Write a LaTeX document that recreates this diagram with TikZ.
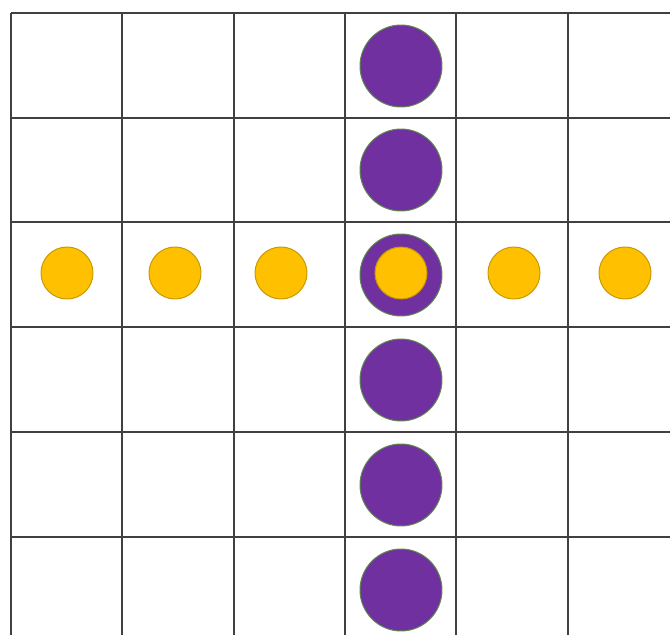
\documentclass[tikz,border=0pt]{standalone}
\usepackage{tikz}
\definecolor{piecepurple}{HTML}{7030A0}
\definecolor{piecegreen}{HTML}{5E8A4E}
\definecolor{pieceyellow}{HTML}{FFC000}
\definecolor{pieceedge}{HTML}{C89A00}

\begin{document}
\begin{tikzpicture}[
    x=0.02cm, y=-0.02cm,
    gridline/.style={line width=0.04cm, black!75},
    bigdot/.style={circle, draw=piecegreen, fill=piecepurple, line width=0.02cm, minimum size=1.64cm, inner sep=0pt},
    smalldot/.style={circle, draw=pieceedge, fill=pieceyellow, line width=0.02cm, minimum size=1.04cm, inner sep=0pt}
  ]
    \useasboundingbox (0,0) rectangle (670,635);
    % grid
    \foreach \gx in {11,122,234,345,456,568}
      \draw[gridline] (\gx,13) -- (\gx,635);
    \foreach \gy in {13,118,222,327,432,537}
      \draw[gridline] (11,\gy) -- (670,\gy);
    % column of purple pieces
    \foreach \py [count=\i] in {66,170,275,380,485,590}
      \node[bigdot] (p\i) at (401,\py) {};
    % row of yellow pieces
    \foreach \px [count=\i] in {67,175,281,401,514,625}
      \node[smalldot] (y\i) at (\px,273) {};
  \end{tikzpicture}
\end{document}
